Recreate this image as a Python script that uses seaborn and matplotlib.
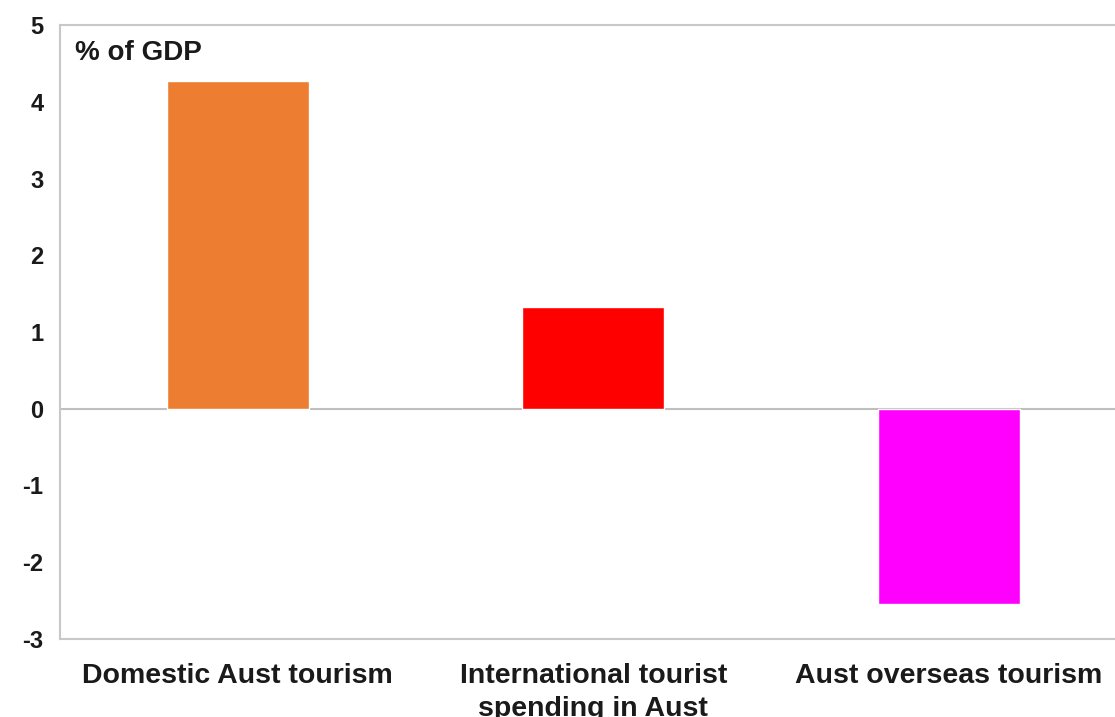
import matplotlib
matplotlib.use("Agg")
import matplotlib.pyplot as plt
import seaborn as sns
import pandas as pd

categories = ["Domestic Aust tourism", "International tourist\nspending in Aust", "Aust overseas tourism"]
values = [4.27, 1.32, -2.55]
colors = ["#ED7D31", "#FF0000", "#FF00FF"]
yticks = [-3, -2, -1, 0, 1, 2, 3, 4, 5]

sns.set_theme(style="white")
plt.rcParams['font.family'] = ['Liberation Sans', 'DejaVu Sans']

df = pd.DataFrame({"cat": categories, "val": values})

fig = plt.figure(figsize=(11.15, 7.17), dpi=100)
ax = fig.add_axes([60/1115, 78/717, 1066.5/1115, 614/717])
sns.barplot(data=df, x="cat", y="val", hue="cat", palette=colors, legend=False,
            width=0.4, ax=ax, saturation=1)
ax.set_xlim(-0.5, 2.5)
ax.set_ylim(-3, 5)
ax.set_yticks(yticks)
ax.set_yticklabels([str(t) for t in yticks])
ax.set_xlabel("")
ax.set_ylabel("")
ax.axhline(0, color="#BFBFBF", lw=1.5, zorder=0.5)
for s in ["left", "top", "bottom"]:
    ax.spines[s].set_color("#C8C8C8")
    ax.spines[s].set_linewidth(1.5)
ax.spines["right"].set_visible(False)
ax.tick_params(axis="both", length=0, colors="#1a1a1a")
ax.tick_params(axis="y", pad=12, labelsize=17)
ax.tick_params(axis="x", pad=17, labelsize=20.5)
for lbl in ax.get_xticklabels() + ax.get_yticklabels():
    lbl.set_fontweight("bold")
for lbl in ax.get_xticklabels():
    lbl.set_linespacing(1.37)
ax.text(15/1066.5, 0.975, "% of GDP", transform=ax.transAxes, fontsize=20,
        fontweight="bold", va="top", ha="left", color="#1a1a1a")
fig.savefig("out.png", dpi=100)
